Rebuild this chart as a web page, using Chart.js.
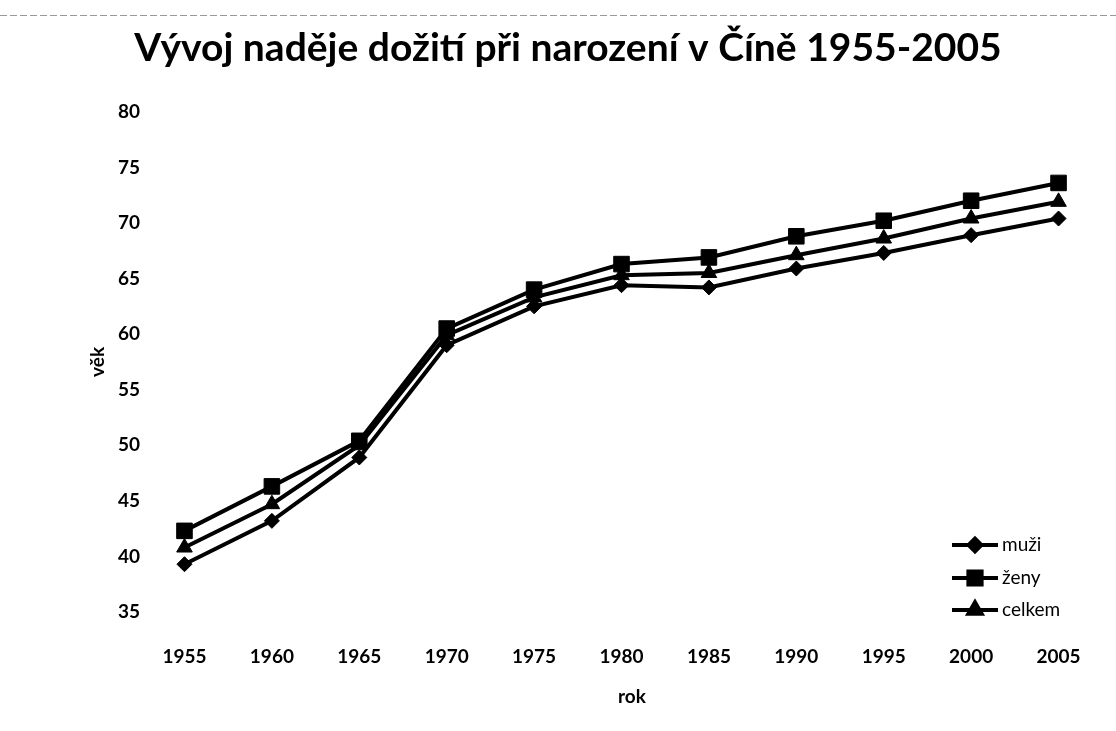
<!DOCTYPE html>
<html>
<head>
<meta charset="utf-8">
<script src="https://cdn.jsdelivr.net/npm/chart.js@4/dist/chart.umd.min.js"></script>
<style>
  html, body { margin: 0; padding: 0; background: #fff; }
  #wrap { width: 1116px; height: 731px; position: relative; }
</style>
</head>
<body>
<div id="wrap"><canvas id="lineGraph" width="1116" height="731"></canvas></div>
<script>
const years = [1955, 1960, 1965, 1970, 1975, 1980, 1985, 1990, 1995, 2000, 2005];
const muzi = [39.3, 43.2, 48.9, 59.0, 62.5, 64.4, 64.2, 65.9, 67.3, 68.9, 70.4];
const zeny = [42.3, 46.3, 50.4, 60.5, 64.0, 66.3, 66.9, 68.8, 70.2, 72.0, 73.6];
const celkem = [40.8, 44.7, 50.0, 59.9, 63.3, 65.3, 65.5, 67.1, 68.6, 70.4, 71.9];
const seriesNames = ['muži', 'ženy', 'celkem'];

const FONT = 'Lato, "Open Sans", sans-serif';

const series = [
  { label: seriesNames[0], values: muzi, pointStyle: 'rectRot', radius: 7.5 },
  { label: seriesNames[1], values: zeny, pointStyle: 'rect', radius: 11 },
  { label: seriesNames[2], values: celkem, pointStyle: 'triangle', radius: 9 },
];

// legend drawn by hand inside the plot, bottom right
const sideLegend = {
  id: 'sideLegend',
  afterDraw(chart) {
    const ctx = chart.ctx;
    const rows = [545, 578, 610];
    ctx.save();
    chart.data.datasets.forEach((ds, i) => {
      const y = rows[i];
      ctx.strokeStyle = '#000';
      ctx.lineWidth = 4;
      ctx.beginPath();
      ctx.moveTo(952, y);
      ctx.lineTo(998, y);
      ctx.stroke();
      ctx.fillStyle = '#000';
      Chart.helpers.drawPoint(ctx, {
        pointStyle: ds.pointStyle,
        radius: ds.pointRadius * 0.85,
        rotation: 0,
        borderWidth: 1
      }, 975, y);
      ctx.font = '19px ' + FONT;
      ctx.textBaseline = 'middle';
      ctx.textAlign = 'left';
      ctx.fillText(ds.label, 1002, y);
    });
    ctx.restore();
  }
};

// white page plus the faint dashed rule across the top of the scan
const pageBits = {
  id: 'pageBits',
  beforeDraw(chart) {
    const ctx = chart.ctx;
    ctx.save();
    ctx.fillStyle = '#fff';
    ctx.fillRect(0, 0, chart.width, chart.height);
    ctx.strokeStyle = '#9a9a9a';
    ctx.lineWidth = 1;
    ctx.setLineDash([7, 3]);
    ctx.beginPath();
    ctx.moveTo(0, 15.5);
    ctx.lineTo(chart.width, 15.5);
    ctx.stroke();
    ctx.restore();
  }
};

const ctx = document.getElementById('lineGraph').getContext('2d');
const myChart = new Chart(ctx, {
  type: 'line',
  data: {
    datasets: series.map(s => ({
      label: s.label,
      data: years.map((yr, i) => ({ x: yr, y: s.values[i] })),
      borderColor: '#000',
      backgroundColor: '#000',
      borderWidth: 4,
      pointStyle: s.pointStyle,
      pointRadius: s.radius,
      pointHoverRadius: s.radius,
      pointBorderWidth: 1,
      tension: 0,
    }))
  },
  options: {
    responsive: false,
    animation: false,
    layout: { padding: { left: 20, right: 0, top: 0, bottom: 0 } },
    plugins: {
      legend: { display: false },
      tooltip: { enabled: false },
      title: {
        display: true,
        text: 'Vývoj naděje dožití při narození v Číně 1955-2005',
        color: '#000',
        font: { family: FONT, size: 39, weight: 'bold' },
        padding: { top: 25, bottom: 40 }
      }
    },
    scales: {
      x: {
        type: 'linear',
        min: 1953.6,
        max: 2007.6,
        afterBuildTicks: s => { s.ticks = years.map(v => ({ value: v })); },
        afterFit: s => { s.height = 119; },
        grid: { display: false },
        border: { display: false },
        ticks: {
          color: '#000',
          padding: 25,
          font: { family: FONT, size: 19, weight: 'bold' },
          callback: v => String(v)
        },
        title: {
          display: true,
          text: 'rok',
          color: '#000',
          font: { family: FONT, size: 19, weight: 'bold' },
          padding: { top: 0, bottom: 23 }
        }
      },
      y: {
        min: 35,
        max: 80,
        afterFit: s => { s.width = 140; },
        grid: { display: false },
        border: { display: false },
        ticks: {
          stepSize: 5,
          color: '#000',
          padding: 12,
          font: { family: FONT, size: 19, weight: 'bold' }
        },
        title: {
          display: true,
          text: 'věk',
          color: '#000',
          font: { family: FONT, size: 19, weight: 'bold' },
          padding: { top: 66, bottom: 0 }
        }
      }
    }
  },
  plugins: [pageBits, sideLegend]
});
</script>
</body>
</html>
